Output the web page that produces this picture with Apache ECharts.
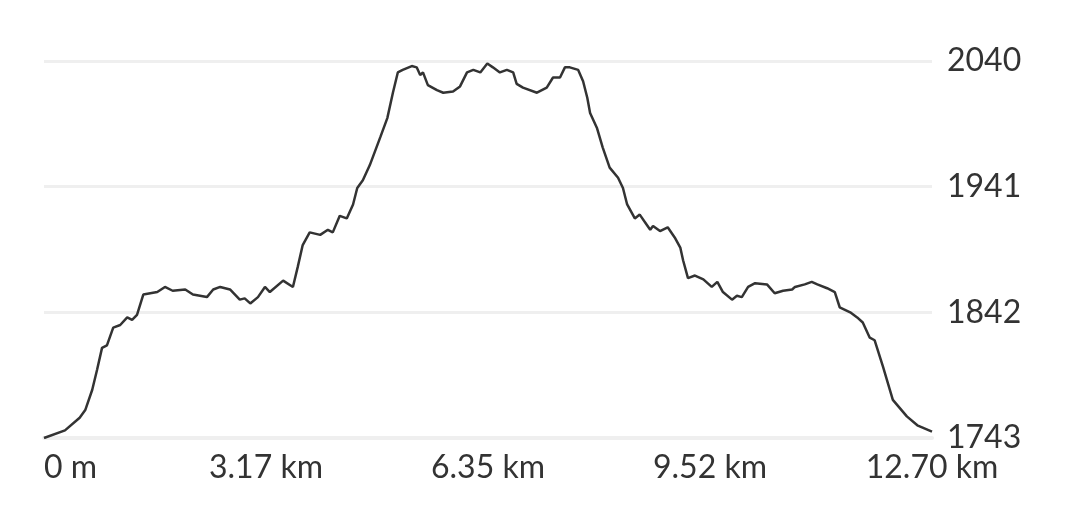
<!DOCTYPE html>
<html>
<head>
<meta charset="utf-8">
<script src="https://cdn.jsdelivr.net/npm/echarts@6/dist/echarts.min.js"></script>
<style>
html,body{margin:0;padding:0;background:#fff;}
#chart{width:1080px;height:524px;}
</style>
</head>
<body>
<div id="chart"></div>
<script>
// Distance along route (km)
const distanceKm = [
  0.00, 0.30, 0.51, 0.59, 0.69, 0.76, 0.83, 0.90, 0.99, 1.09, 1.19, 1.26, 1.33, 1.42, 1.62, 1.73, 1.84, 2.02, 2.13, 2.33,
  2.42, 2.52, 2.66, 2.80, 2.87, 2.95, 3.06, 3.16, 3.23, 3.42, 3.56, 3.63, 3.70, 3.80, 3.95, 4.06, 4.13, 4.23, 4.33, 4.42,
  4.48, 4.56, 4.66, 4.81, 4.91, 4.99, 5.06, 5.13, 5.26, 5.33, 5.38, 5.42, 5.49, 5.62, 5.71, 5.85, 5.95, 6.05, 6.14, 6.24,
  6.34, 6.42, 6.52, 6.62, 6.71, 6.76, 6.85, 7.05, 7.19, 7.28, 7.38, 7.45, 7.52, 7.64, 7.71, 7.77, 7.81, 7.91, 7.99, 8.09,
  8.21, 8.28, 8.34, 8.45, 8.52, 8.62, 8.67, 8.71, 8.81, 8.92, 9.02, 9.10, 9.14, 9.21, 9.31, 9.43, 9.55, 9.63, 9.71, 9.84,
  9.91, 9.98, 10.07, 10.17, 10.34, 10.45, 10.57, 10.70, 10.74, 10.88, 10.98, 11.06, 11.20, 11.31, 11.38, 11.53, 11.63, 11.71, 11.81, 11.88,
  12.00, 12.14, 12.34, 12.49, 12.70
];
// Elevation (m)
const elevationM = [
  1743, 1749, 1759, 1765, 1781, 1797, 1814, 1816, 1830, 1832, 1838, 1836, 1840, 1856, 1858, 1862, 1859, 1860, 1856, 1854,
  1860, 1862, 1860, 1852, 1853, 1849, 1854, 1862, 1858, 1867, 1862, 1878, 1895, 1905, 1903, 1907, 1905, 1918, 1916, 1927,
  1940, 1946, 1958, 1980, 1995, 2015, 2031, 2033, 2036, 2035, 2029, 2031, 2021, 2017, 2015, 2016, 2020, 2031, 2033, 2031,
  2038, 2035, 2031, 2033, 2031, 2022, 2019, 2015, 2019, 2027, 2027, 2035, 2035, 2033, 2024, 2011, 1999, 1987, 1972, 1956,
  1948, 1940, 1927, 1916, 1919, 1911, 1907, 1910, 1906, 1909, 1901, 1893, 1883, 1869, 1871, 1868, 1862, 1866, 1858, 1852,
  1855, 1854, 1862, 1865, 1864, 1857, 1859, 1860, 1862, 1864, 1866, 1864, 1861, 1858, 1846, 1842, 1838, 1834, 1822, 1820,
  1799, 1773, 1760, 1753, 1748
];
// Axis ticks and labels
const xTicks = [0, 3.175, 6.35, 9.525, 12.70];
const xTickLabels = ['0 m', '3.17 km', '6.35 km', '9.52 km', '12.70 km'];
const yTicks = [1743, 1842, 1941, 2040];
const yTickLabels = ['1743', '1842', '1941', '2040'];

const seriesData = distanceKm.map((d, i) => [d, elevationM[i]]);

const chart = echarts.init(document.getElementById('chart'), null, {renderer: 'canvas'});
const fontFamily = 'Lato, "Open Sans", sans-serif';
chart.setOption({
  animation: false,
  backgroundColor: '#ffffff',
  grid: {left: 44, right: 148, top: 61, bottom: 86, containLabel: false},
  xAxis: {
    type: 'value',
    min: xTicks[0],
    max: xTicks[xTicks.length - 1],
    axisLine: {show: true, lineStyle: {color: '#efefef', width: 4}},
    axisTick: {show: false, customValues: xTicks},
    splitLine: {show: false},
    axisLabel: {
      customValues: xTicks,
      color: '#333',
      fontFamily: fontFamily,
      fontSize: 32,
      margin: 14,
      alignMinLabel: 'left',
      alignMaxLabel: 'center',
      formatter: function (v) {
        const i = xTicks.indexOf(v);
        return i >= 0 ? xTickLabels[i] : '';
      }
    }
  },
  yAxis: {
    type: 'value',
    position: 'right',
    min: yTicks[0],
    max: yTicks[yTicks.length - 1],
    axisLine: {show: false},
    axisTick: {show: false, customValues: yTicks},
    splitLine: {show: true, lineStyle: {color: '#efefef', width: 3}},
    axisLabel: {
      customValues: yTicks,
      color: '#333',
      fontFamily: fontFamily,
      fontSize: 32,
      margin: 15,
      verticalAlignMinLabel: 'middle',
      verticalAlignMaxLabel: 'middle',
      formatter: function (v) {
        const i = yTicks.indexOf(v);
        return i >= 0 ? yTickLabels[i] : '';
      }
    }
  },
  series: [{
    type: 'line',
    data: seriesData,
    showSymbol: false,
    symbol: 'none',
    smooth: false,
    lineStyle: {color: '#333333', width: 2.5},
    z: 5
  }]
});
</script>
</body>
</html>
